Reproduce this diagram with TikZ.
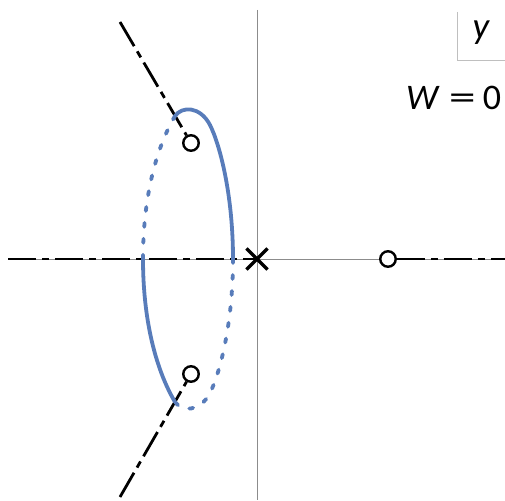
\documentclass[tikz,border=0pt]{standalone}
\usepackage{fontspec}
\setmainfont{Carlito}
\usetikzlibrary{shapes.misc,backgrounds}
\definecolor{locblue}{RGB}{88,124,186}
\begin{document}
\begin{tikzpicture}[x=1pt,y=-1pt,
  axis/.style={draw=black!45, line width=0.8pt},
  boxline/.style={draw=black!25, line width=0.8pt},
  locus/.style={draw=locblue, line width=3.8pt},
  dotloc/.style={draw=locblue, line width=3.8pt, line cap=round, dash pattern=on 4pt off 12pt},
  asym/.style={draw=black, line width=2.8pt, dash pattern=on 28pt off 6pt on 7pt off 6pt},
  zero/.style={circle, draw=black, line width=2.4pt, fill=white, minimum size=15.5pt, inner sep=0pt},
  pole/.style={cross out, draw=black, line width=3.2pt, minimum size=18pt, inner sep=0pt},
  lab/.style={font=\fontsize{37}{44}\selectfont\itshape, inner sep=0pt}
]
\useasboundingbox (0,0) rectangle (505,500);
% legend box
\draw[boxline] (457,12) -- (457,60) -- (505,60);
\node[lab, anchor=center] (ylab) at (481,33) {y};
\node[lab, anchor=base west, font=\fontsize{36}{44}\selectfont] (wlab) at (406,110) {\textit{W}\hspace{0.25em}\scalebox{1.5}[1]{=}\hspace{0.2em}0};
% poles and zeros
\node[zero] (z1) at (191,143) {};
\node[zero] (z2) at (191,374) {};
\node[zero] (z3) at (388,259) {};
\node[pole] (p0) at (257,259) {};
\coordinate (ua) at (120,22);
\coordinate (la) at (120,497);
\coordinate (hl) at (8,259);
\coordinate (hr) at (505,259);
\begin{scope}[on background layer]
% axes
\draw[axis] (257,10) -- (257,500);
\draw[axis] (8,259) -- (505,259);
\draw[asym] (hl) -- (p0.center);
\draw[asym] (z3) -- (hr);
\end{scope}
% asymptotic branches
\draw[asym] (ua) -- (z1);
\draw[asym] (la) -- (z2);
% locus curve
\draw[locus] (175,116) .. controls (182,106) and (200,106) .. (210,125) .. controls (220,145) and (233,195) .. (233,259);
\draw[dotloc] (175,116) .. controls (155,150) and (143,200) .. (143,259);
\draw[locus] (143,259) .. controls (143,318) and (155,368) .. (175,402);
\draw[dotloc] (233,259) .. controls (233,323) and (220,373) .. (210,393) .. controls (200,412) and (182,412) .. (175,402);
\end{tikzpicture}
\end{document}
